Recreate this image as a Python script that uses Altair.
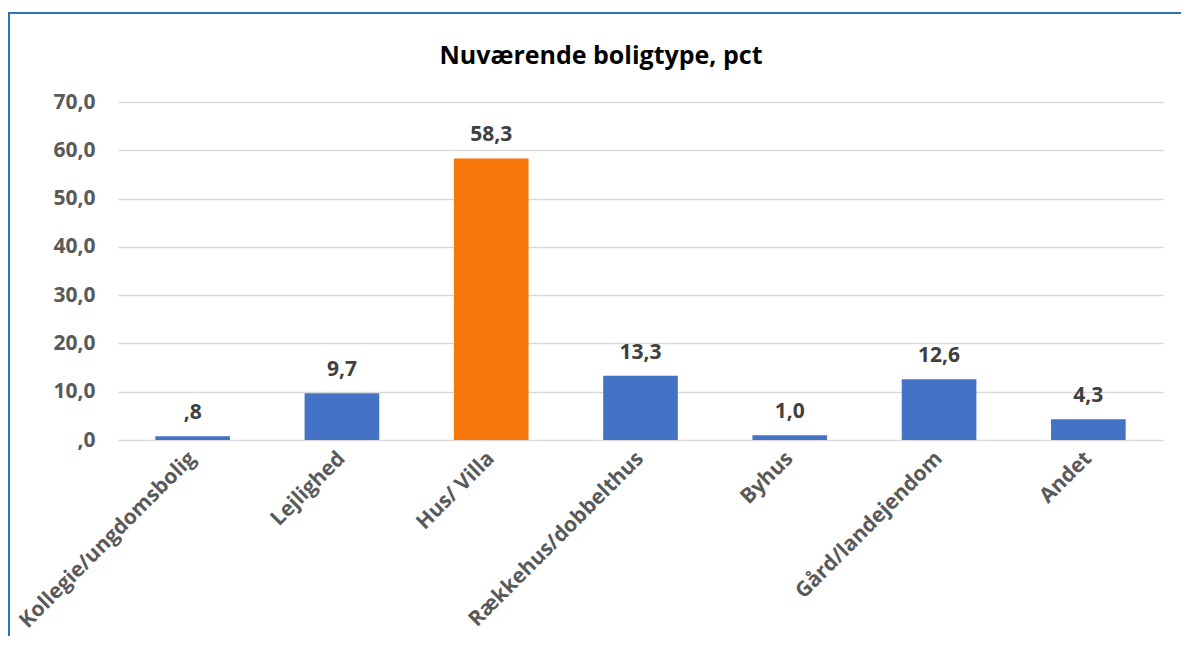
import altair as alt
import pandas as pd

categories = ["Kollegie/ungdomsbolig", "Lejlighed", "Hus/ Villa", "Rækkehus/dobbelthus",
              "Byhus", "Gård/landejendom", "Andet"]
values = [0.8, 9.7, 58.3, 13.3, 1.0, 12.6, 4.3]
bar_colors = ["#4472C4", "#4472C4", "#F7760A", "#4472C4", "#4472C4", "#4472C4", "#4472C4"]
y_ticks = [0, 10, 20, 30, 40, 50, 60, 70]
title_text = "Nuværende boligtype, pct"

df = pd.DataFrame({"kategori": categories, "pct": values})

FONT = "Open Sans"
W, H = 1045, 338
LBL = 21

x_enc = alt.X("kategori:N", sort=categories, title=None,
              scale=alt.Scale(paddingInner=0.5, paddingOuter=0.25),
              axis=alt.Axis(labelAngle=-45, labelAlign="right", labelBaseline="middle",
                            labelPadding=15, labelFontSize=LBL, labelFont=FONT,
                            labelFontWeight="bold", labelColor="#595959",
                            domain=False, ticks=False, grid=False, labelLimit=400))
y_enc = alt.Y("pct:Q", title=None,
              scale=alt.Scale(domain=[0, 70], nice=False),
              axis=alt.Axis(values=y_ticks, labelPadding=23, tickSize=0, domain=False,
                            labelFontSize=LBL, labelFont=FONT, labelFontWeight="bold",
                            labelColor="#595959", gridColor="#D9D9D9", gridWidth=1.6,
                            labelExpr="datum.value == 0 ? ',0' : replace(format(datum.value, '.1f'), '.', ',')"))

base = alt.Chart(df)

bars = base.mark_bar().encode(
    x=x_enc, y=y_enc,
    color=alt.Color("kategori:N", scale=alt.Scale(domain=categories, range=bar_colors), legend=None),
)

text = base.transform_calculate(
    lbl="datum.pct < 1 ? replace(format(datum.pct, '.1f'), '0.', ',') : replace(format(datum.pct, '.1f'), '.', ',')"
).mark_text(font=FONT, fontSize=LBL, fontWeight="bold", color="#404040",
            baseline="alphabetic", dy=-17).encode(
    x=alt.X("kategori:N", sort=categories), y=alt.Y("pct:Q"), text="lbl:N"
)

one_df = pd.DataFrame({"t": [title_text]})
title_mark = alt.Chart(one_df).mark_text(
    font=FONT, fontSize=25, fontWeight="bold", color="#000000",
    align="center", baseline="alphabetic"
).encode(x=alt.value(483), y=alt.value(-38), text="t:N")

top_border = alt.Chart(one_df).mark_rule(color="#2E75B6", strokeWidth=2).encode(
    x=alt.value(-110), x2=alt.value(1200), y=alt.value(-89)
)
left_border = alt.Chart(one_df).mark_rule(color="#2E75B6", strokeWidth=2).encode(
    x=alt.value(-109), y=alt.value(-90), y2=alt.value(700)
)

chart = alt.layer(bars, text, title_mark, top_border, left_border).properties(
    width=W, height=H,
    background="white",
    autosize=alt.AutoSizeParams(type="none"),
    padding={"left": 110, "top": 94, "right": 18, "bottom": 196},
).configure_view(stroke="transparent", strokeWidth=0)

chart.save("out.html", embed_options={"renderer": "svg", "actions": False})
